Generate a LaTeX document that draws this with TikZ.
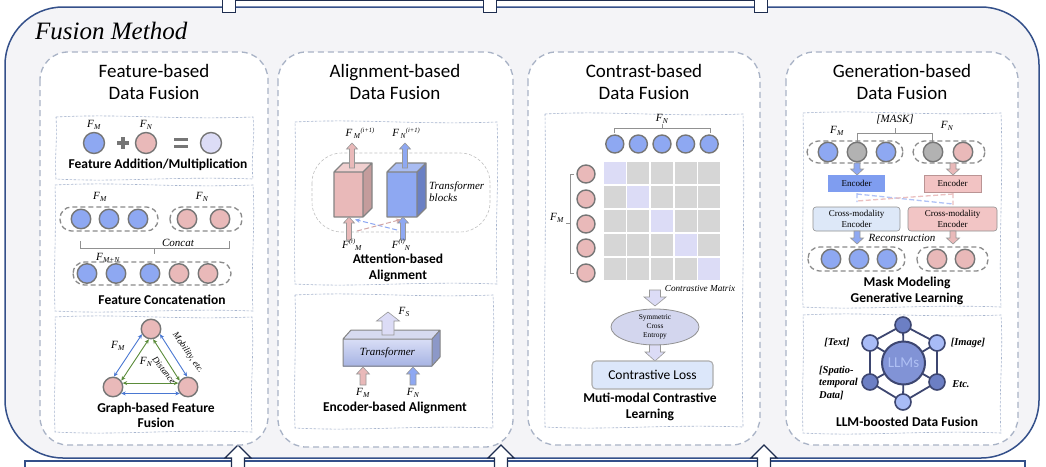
\documentclass[tikz,border=0pt]{standalone}
\usepackage{fontspec}
\setmainfont{Liberation Serif}
\setsansfont{Carlito}
\usetikzlibrary{shapes.geometric,arrows.meta}
\definecolor{outerfill}{HTML}{F4F4F7}
\definecolor{outerline}{HTML}{34508A}
\definecolor{navy}{HTML}{1E2D4F}
\definecolor{pline}{HTML}{A9B3C6}
\definecolor{sline}{HTML}{A7B5CE}
\definecolor{cgray}{HTML}{767676}
\definecolor{cblue}{HTML}{8EA8F2}
\definecolor{cpink}{HTML}{E9B9B9}
\definecolor{clav}{HTML}{DCDCF6}
\definecolor{cgrey}{HTML}{B2B2B2}
\definecolor{garrow}{HTML}{5B8C3A}
\definecolor{barrowc}{HTML}{4A78D2}
\definecolor{pinkside}{HTML}{C49C9C}
\definecolor{pinktop}{HTML}{F0CFCF}
\definecolor{blueside}{HTML}{6A80C4}
\definecolor{bluetop}{HTML}{A9BCF2}
\definecolor{slabA}{HTML}{D9DEF6}
\definecolor{slabB}{HTML}{A6B3E3}
\definecolor{slabtop}{HTML}{D6DAF0}
\definecolor{slabside}{HTML}{8C98C8}
\definecolor{cellgray}{HTML}{D6D6D6}
\definecolor{ellfill}{HTML}{D3D6EE}
\definecolor{lossfill}{HTML}{DCE7FA}
\definecolor{encblue}{HTML}{7F9DF0}
\definecolor{encpink}{HTML}{F2C3C3}
\definecolor{crossblue}{HTML}{DDE8F8}
\definecolor{crosspink}{HTML}{F2C5C5}
\definecolor{hexdark}{HTML}{6C7FC4}
\definecolor{hexlight}{HTML}{A8BBF6}
\definecolor{hexline}{HTML}{3D4670}
\definecolor{hexcenter}{HTML}{8193D6}
\definecolor{llmtext}{HTML}{AFC0F4}

\newcommand{\FL}[1]{\textit{F}\kern0.2pt\raisebox{-0.4ex}{\fontsize{7.5}{7.5}\selectfont\textit{#1}}}
\newcommand{\FLup}[2]{\textit{F}\kern1.5pt\raisebox{-0.3ex}{\fontsize{7.5}{7.5}\selectfont\textit{#1}}\raisebox{0.9ex}{\fontsize{6.5}{6.5}\selectfont\textit{#2}}}
\newcommand{\FLdn}[2]{\textit{F}\raisebox{0.9ex}{\fontsize{6.5}{6.5}\selectfont\textit{#2}}\raisebox{-0.4ex}{\fontsize{7.5}{7.5}\selectfont\textit{#1}}}

% vertical block arrow: x, tail y, tip y, shaft half, head half, head length, style
\newcommand{\varw}[7]{%
  \pgfmathsetmacro\myhb{#3+((#2>#3)?1:-1)*#6}%
  \draw[#7] ({#1-#4},#2) -- ({#1-#4},\myhb) -- ({#1-#5},\myhb) -- (#1,#3) -- ({#1+#5},\myhb) -- ({#1+#4},\myhb) -- ({#1+#4},#2) -- cycle;}

% wavy thin dashed box
\newcommand{\wbox}[4]{%
  \draw[subbox] (#1,#2) .. controls ({#1+(#3-#1)*0.33},{#2-3.5}) and ({#1+(#3-#1)*0.6},{#2+3}) .. (#3,#2)
   .. controls ({#3+2.5},{#2+(#4-#2)*0.35}) and ({#3-2.5},{#2+(#4-#2)*0.65}) .. (#3,#4)
   .. controls ({#1+(#3-#1)*0.6},{#4-3}) and ({#1+(#3-#1)*0.33},{#4+3.5}) .. (#1,#4)
   .. controls ({#1-1.5},{#2+(#4-#2)*0.65}) and ({#1+1.5},{#2+(#4-#2)*0.35}) .. (#1,#2);}

% cube: x1 y1 x2 y2 dx dy front side top
\newcommand{\mycube}[9]{%
  \fill[#7] (#1,#2) rectangle (#3,#4);
  \fill[#8] (#3,#2) -- ({#3+#5},{#2-#6}) -- ({#3+#5},{#4-#6}) -- (#3,#4) -- cycle;
  \fill[#9] (#1,#2) -- ({#1+#5},{#2-#6}) -- ({#3+#5},{#2-#6}) -- (#3,#2) -- cycle;
  \draw[cubeline] (#1,#2) rectangle (#3,#4) (#3,#2) -- ({#3+#5},{#2-#6}) -- ({#3+#5},{#4-#6}) -- (#3,#4) (#1,#2) -- ({#1+#5},{#2-#6}) -- ({#3+#5},{#2-#6});}

\tikzset{
  panel/.style={draw=pline, line width=1.3pt, dash pattern=on 6pt off 4pt, fill=white, rounded corners=28pt},
  subbox/.style={draw=sline, line width=0.6pt, dash pattern=on 2.5pt off 1.5pt},
  ttl/.style={font=\sffamily\fontsize{19}{22}\selectfont, align=center, inner sep=0},
  subt/.style={font=\sffamily\bfseries\fontsize{13.5}{15.5}\selectfont, align=center, inner sep=0},
  lab/.style={font=\rmfamily\fontsize{11}{11}\selectfont, inner sep=0},
  itl/.style={font=\rmfamily\itshape\fontsize{11}{12}\selectfont, inner sep=0},
  pill/.style={draw=cgray!85, line width=1.3pt, dash pattern=on 5pt off 3pt, rounded corners=11.5pt},
  bcirc/.style={circle, draw=cgray, line width=1.4pt, fill=cblue, minimum size=19.5pt, inner sep=0},
  pcirc/.style={bcirc, fill=cpink},
  lcirc/.style={bcirc, fill=clav},
  gcirc/.style={bcirc, fill=cgrey},
  barw/.style={draw=cgray!75, line width=0.6pt},
  barr/.style={<->, >={Stealth[length=4.5pt,width=4pt]}, line width=0.9pt, draw=barrowc},
  garr/.style={<->, >={Stealth[length=4.5pt,width=4pt]}, line width=0.9pt, draw=garrow},
  cubeline/.style={draw=cgray!90, line width=1.3pt, line join=round},
  brc/.style={draw=cgray!80, line width=0.7pt},
  hexd/.style={circle, draw=hexline, line width=1.6pt, fill=hexdark, minimum size=16pt, inner sep=0},
  hexl/.style={hexd, fill=hexlight},
  hexedge/.style={draw=hexline, line width=1.8pt},
  small/.style={font=\rmfamily\fontsize{9}{11.5}\selectfont, align=center, inner sep=0},
  hlab/.style={inner sep=0,font=\rmfamily\bfseries\itshape\fontsize{10.5}{12.5}\selectfont}
}

\begin{document}
\begin{tikzpicture}[x=1pt,y=-1pt]
\useasboundingbox (0,0) rectangle (1046,466);

% element below (partly visible)
\draw[outerline,line width=1.2pt,fill=white] (25,461) rectangle (1025,476);

% outer frame
\draw[outerline,line width=1.5pt,fill=outerfill,rounded corners=58pt] (5,7) rectangle (1039,458);
\foreach \x in {238,501,764}{\varw{\x}{472}{445}{6.5}{13}{13}{navy,line width=1.2pt,fill=white}}

% stubs of the element above
\draw[navy,line width=1pt] (229,0.6) -- (760,0.6);
\foreach \x in {222,483,754}{\draw[navy,line width=1pt,fill=white] (\x,-3) rectangle ({\x+13},12);}

\node[anchor=west,inner sep=0,font=\rmfamily\itshape\fontsize{25}{25}\selectfont] (fm) at (35,31) {Fusion Method};

% panels
\draw[panel] (40,52) rectangle (268,445);
\draw[panel] (278,52) rectangle (513,447);
\draw[panel] (528,52) rectangle (760,445);
\draw[panel] (786,52) rectangle (1018,445);

\node[ttl] (t1) at (154,82) {Feature-based\\Data Fusion};
\node[ttl] (t2) at (395,82) {Alignment-based\\Data Fusion};
\node[ttl] (t3) at (644,82) {Contrast-based\\Data Fusion};
\node[ttl] (t4) at (902,82) {Generation-based\\Data Fusion};

\wbox{56}{117}{253}{179}
\wbox{55}{185}{253}{311}
\wbox{55}{317}{252}{432}
\wbox{295}{122}{497}{284}
\wbox{295}{295}{493}{428}
\wbox{545}{114}{743}{427}
\wbox{803}{113}{1001}{307}
\wbox{803}{315}{1001}{433}

% ---------- Panel 1 ----------
\node[bcirc,minimum size=21pt] (a1) at (94,143) {};
\draw[cgray,line width=3.5pt] (117,143) -- (129,143) (123,137) -- (123,149);
\node[pcirc,minimum size=21pt] (a2) at (146,143) {};
\draw[cgray,line width=3pt] (174,139.5) -- (188,139.5) (174,146.5) -- (188,146.5);
\node[lcirc,minimum size=21pt] (a3) at (211,143) {};
\node[lab] (la1) at (94,125) {\FL{M}};
\node[lab] (la2) at (146,125) {\FL{N}};
\node[subt] (s11) at (158,165) {Feature Addition/Multiplication};

\draw[pill] (60,207) rectangle (158,231);
\draw[pill] (170,207) rectangle (242,231);
\foreach \x [count=\i] in {81,109,138}{\node[bcirc] (cm\i) at (\x,219) {};}
\node[pcirc] (cn1) at (187,219) {};
\node[pcirc] (cn2) at (220,219) {};
\node[lab] (lb1) at (100,197) {\FL{M}};
\node[lab] (lb2) at (202,197) {\FL{N}};
\draw[brc] (80,241) -- (80,248) -- (229,248) -- (229,241) (154,248) -- (154,254);
\node[itl] (cc) at (178,243) {Concat};
\node[lab] (lb3) at (108,258) {\FL{M+N}};
\draw[pill] (73,262) rectangle (231,285);
\foreach \x [count=\i] in {87,116,150}{\node[bcirc] (cb\i) at (\x,273.5) {};}
\node[pcirc] (cp1) at (179,273.5) {};
\node[pcirc] (cp2) at (208,273.5) {};
\node[subt] (s12) at (162,300) {Feature Concatenation};

\node[pcirc] (gT) at (151,329) {};
\node[pcirc] (gL) at (113,387) {};
\node[pcirc] (gR) at (188,387) {};
\draw[barr] (gT.210) -- (gL.85);
\draw[garr] (gT.258) -- (gL.37);
\draw[barr] (gT.330) -- (gR.95);
\draw[garr] (gT.282) -- (gR.143);
\draw[garr] (gL.22) -- (gR.158);
\draw[barr] (gL.322) -- (gR.218);
\node[lab] (lg1) at (118,346) {\FL{M}};
\node[lab] (lg2) at (146,362) {\FL{N}};
\node[inner sep=0,rotate=-55,font=\rmfamily\itshape\fontsize{9}{9}\selectfont] (mob) at (188,353) {Mobility, etc.};
\node[inner sep=0,rotate=-52,font=\rmfamily\itshape\fontsize{9}{9}\selectfont] (dis) at (164,370) {Distance};
\node[subt,font=\sffamily\bfseries\fontsize{13.5}{15}\selectfont] (s13) at (156,415) {Graph-based Feature\\Fusion};

% ---------- Panel 2 ----------
\draw[draw=cgray!45,line width=0.6pt,dash pattern=on 3pt off 2pt,rounded corners=30pt] (312,153) rectangle (490,232);
\mycube{334}{172}{363}{217}{9}{9}{cpink}{pinkside}{pinktop}
\mycube{387}{172}{417}{217}{9}{9}{cblue}{blueside}{bluetop}
\varw{352}{168}{143}{2.5}{5.5}{6}{barw,fill=cpink}
\varw{405}{168}{143}{2.5}{5.5}{6}{barw,fill=cblue}
\varw{349}{240}{217}{2.5}{5.5}{6}{barw,fill=cpink}
\varw{403}{240}{217}{2.5}{5.5}{6}{barw,fill=cblue}
\coordinate (db1) at (397,230);
\coordinate (db2) at (355,219.5);
\coordinate (dp1) at (357,231);
\coordinate (dp2) at (401,219.5);
\draw[-{Stealth[length=5pt,width=4.5pt]},draw=cblue,line width=1pt,dash pattern=on 5pt off 2.5pt] (db1) -- (db2);
\draw[-{Stealth[length=5pt,width=4.5pt]},draw=cpink!90!black,line width=1pt,dash pattern=on 5pt off 2.5pt] (dp1) -- (dp2);
\node[lab] (lu1) at (360,133) {\FLup{M}{(i+1)}};
\node[lab] (lu2) at (406,133) {\FLup{N}{(i+1)}};
\node[lab] (ld1) at (352,245) {\FLdn{M}{(i)}};
\node[lab] (ld2) at (401,245) {\FLdn{N}{(i)}};
\node[itl,anchor=west,align=left] (tb) at (429,192) {Transformer\\blocks};
\node[subt] (s21) at (398,268) {Attention-based\\Alignment};

\fill[slabtop] (343,339) -- (351,330) -- (440,330) -- (432,339) -- cycle;
\fill[slabside] (432,339) -- (440,330) -- (440,357) -- (432,366) -- cycle;
\shade[top color=slabA,bottom color=slabB] (343,339) rectangle (432,366);
\draw[cubeline,line width=1pt] (343,339) rectangle (432,366) (343,339) -- (351,330) -- (440,330) -- (432,339) (440,330) -- (440,357) -- (432,366);
\node[itl] (tr) at (387.5,352.5) {Transformer};
\varw{388}{335}{312}{6}{11.5}{9}{barw,fill=clav}
\varw{363}{385}{367}{3}{6.5}{7}{barw,fill=cpink}
\varw{413}{385}{367}{3}{6.5}{7}{barw,fill=cblue}
\node[lab] (ls) at (404,312) {\FL{S}};
\node[lab] (le1) at (363,393) {\FL{M}};
\node[lab] (le2) at (413,393) {\FL{N}};
\node[subt] (s22) at (395,408) {Encoder-based Alignment};

% ---------- Panel 3 ----------
\foreach \i in {0,...,4}{\foreach \j in {0,...,4}{%
  \pgfmathsetmacro\cx{603+23.6*\i}\pgfmathsetmacro\cy{161+24*\j}%
  \ifnum\i=\j\def\cc{clav}\else\def\cc{cellgray}\fi
  \fill[\cc] ({\cx+0.8},{\cy+0.8}) rectangle ({\cx+22.8},{\cy+23.2});}}
\foreach \i in {0,...,4}{\node[bcirc,minimum size=18pt] (tn\i) at ({614.8+23.6*\i},144) {};}
\foreach \y [count=\i] in {174,199,224,248,273}{\node[pcirc,minimum size=18pt] (lm\i) at (586,\y) {};}
\draw[brc] (614,133) -- (614,128) -- (710,128) -- (710,133) (662,128) -- (662,124);
\node[lab] (lfn) at (662,119) {\FL{N}};
\draw[brc] (574,174) -- (570,174) -- (570,273) -- (574,273) (570,223) -- (566,223);
\node[lab] (lfm) at (557,218) {\FL{M}};
\varw{655}{290}{306}{5.5}{11}{9}{barw,fill=clav}
\node[inner sep=0,font=\rmfamily\itshape\fontsize{9.2}{9.2}\selectfont] (cm) at (700,288) {Contrastive Matrix};
\node[ellipse,draw=cgray!80,fill=ellfill,line width=0.8pt,minimum width=88pt,minimum height=36pt,inner sep=0,align=center,font=\rmfamily\fontsize{7.4}{9}\selectfont] (sce) at (655,327) {Symmetric\\Cross\\Entropy};
\varw{655}{345}{361}{5.5}{10}{9}{barw,fill=clav}
\node[draw=cgray!60,fill=lossfill,line width=1.1pt,rounded corners=4pt,minimum width=121pt,minimum height=28pt,inner sep=0,font=\sffamily\fontsize{13.5}{13.5}\selectfont] (closs) at (652.5,375) {Contrastive Loss};
\node[subt] (s31) at (650,407) {Muti-modal Contrastive\\Learning};

% ---------- Panel 4 ----------
\node[itl] (mask) at (895,119) {[MASK]};
\draw[brc] (857,142) -- (857,133) -- (932,133) -- (932,142) (895,133) -- (895,128);
\node[lab] (l4m) at (837,131) {\FL{M}};
\node[lab] (l4n) at (947,126) {\FL{N}};
\draw[pill] (807,141) rectangle (903,163);
\draw[pill] (913,141) rectangle (985,163);
\node[bcirc] (m1) at (828,152) {};
\node[gcirc] (m2) at (857,152) {};
\node[bcirc] (m3) at (886,152) {};
\node[gcirc] (n1) at (933,152) {};
\node[pcirc] (n2) at (963,152) {};
\varw{857}{163}{175}{3}{6.5}{6}{barw,fill=cblue}
\varw{953}{163}{175}{3}{6.5}{6}{barw,fill=cpink}
\node[fill=encblue,minimum width=57pt,minimum height=17pt,inner sep=0,font=\rmfamily\fontsize{9}{9}\selectfont] (encb) at (856.5,183.5) {Encoder};
\node[draw=cpink!80!black,line width=0.4pt,fill=encpink,minimum width=57pt,minimum height=17pt,inner sep=0,font=\rmfamily\fontsize{9}{9}\selectfont] (encp) at (952.5,183.5) {Encoder};
\draw[draw=cblue!70,line width=1.3pt,dash pattern=on 5pt off 2.5pt] (857,193) -- (857,202) (857,194) -- (953,204);
\draw[draw=cpink!90,line width=1.3pt,dash pattern=on 5pt off 2.5pt] (953,193) -- (953,205) (953,194) -- (857,201);
\node[draw=cgray!80,fill=crossblue,line width=0.6pt,rounded corners=3pt,minimum width=87pt,minimum height=24pt,inner sep=0,small] (xb) at (856.5,219) {Cross-modality\\Encoder};
\node[draw=cgray!80,fill=crosspink,line width=0.6pt,rounded corners=3pt,minimum width=89pt,minimum height=24pt,inner sep=0,small] (xp) at (952.5,219) {Cross-modality\\Encoder};
\varw{857}{231}{244}{3}{6.5}{6}{barw,fill=cblue}
\varw{953}{231}{244}{3}{6.5}{6}{barw,fill=cpink}
\node[itl] (rec) at (902,238) {Reconstruction};
\draw[pill] (808,247) rectangle (905,271);
\draw[pill] (917,247) rectangle (988,271);
\node[bcirc] (r1) at (831,259) {};
\node[bcirc] (r2) at (859,259) {};
\node[bcirc] (r3) at (887,259) {};
\node[pcirc] (r4) at (937,259) {};
\node[pcirc] (r5) at (965,259) {};
\node[subt] (s41) at (907,291) {Mask Modeling\\Generative Learning};

\coordinate (p0) at (903.5,363);
\coordinate (p1) at (903,325);
\coordinate (p2) at (870,343);
\coordinate (p3) at (937,343);
\coordinate (p4) at (870,382);
\coordinate (p5) at (937,382);
\coordinate (p6) at (903,402);
\draw[hexedge] (p1) -- (p2) -- (p4) -- (p6) -- (p5) -- (p3) -- cycle;
\foreach \k in {1,...,6}{\draw[hexedge] (p0) -- (p\k);}
\node[circle,draw=hexline,line width=2pt,fill=hexcenter,minimum size=43pt,inner sep=0,text=llmtext,font=\sffamily\fontsize{15}{15}\selectfont] (hc) at (p0) {LLMs};
\node[hexd] (h1) at (p1) {};
\node[hexl] (h2) at (p2) {};
\node[hexl] (h3) at (p3) {};
\node[hexd] (h4) at (p4) {};
\node[hexd] (h5) at (p5) {};
\node[hexl] (h6) at (p6) {};
\node[hlab] (ht) at (837,343) {[Text]};
\node[hlab] (hi) at (968,343) {[Image]};
\node[hlab] (he) at (961,384) {Etc.};
\node[hlab,anchor=west,align=left] (hs) at (819,383) {[Spatio-\\temporal\\Data]};
\node[subt] (s42) at (907,422) {LLM-boosted Data Fusion};
\end{tikzpicture}
\end{document}
